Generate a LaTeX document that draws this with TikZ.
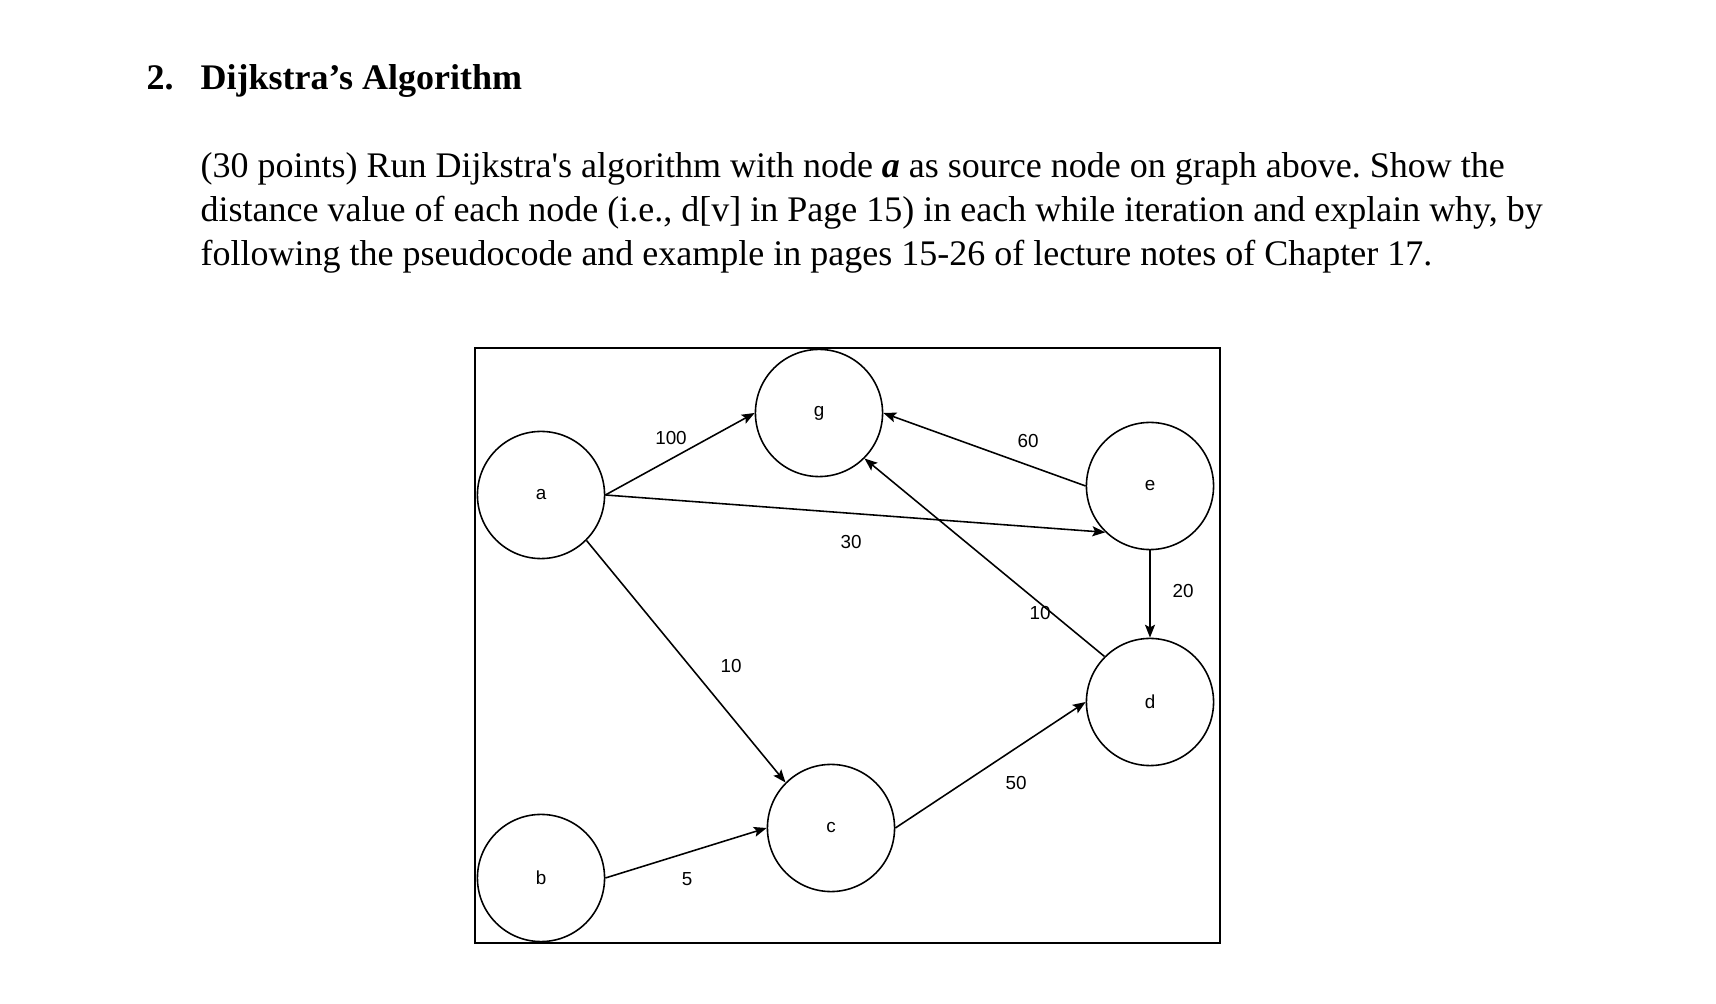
\documentclass[tikz,border=0pt]{standalone}
\usepackage{fontspec}
\setmainfont{Liberation Serif}
\newfontfamily\lblfont{Liberation Sans}
\usetikzlibrary{arrows.meta}
\frenchspacing

\begin{document}
\begin{tikzpicture}[x=0.35pt,y=-0.35pt,
  txt/.style={anchor=base west,inner sep=0pt,font=\fontsize{12.6}{15}\selectfont},
  vtx/.style={draw,circle,minimum size=44.5pt,inner sep=0pt,line width=0.55pt,font=\lblfont\fontsize{6.6}{8}\selectfont},
  wt/.style={inner sep=1pt,font=\lblfont\fontsize{6.6}{8}\selectfont},
  arc/.style={-{Stealth[length=4.5pt,width=3.5pt,inset=0.9pt]},line width=0.55pt}]
\useasboundingbox (0,0) rectangle (1716,1004);
\node[txt,font=\bfseries\fontsize{12.6}{15}\selectfont] (num) at (146,90) {2.};
\node[txt,font=\bfseries\fontsize{12.6}{15}\selectfont] (title) at (200,90) {Dijkstra’s Algorithm};
\node[txt] (line1) at (200,178) {(30 points) Run Dijkstra\textquotesingle s algorithm with node \textbf{\textit{a}} as source node on graph above. Show the};
\node[txt] (line2) at (200,222) {distance value of each node (i.e., d[v] in Page 15) in each while iteration and explain why, by};
\node[txt] (line3) at (200,266) {following the pseudocode and example in pages 15-26 of lecture notes of Chapter 17.};
\draw[line width=0.9pt] (475,348) rectangle (1220,943);
\node[vtx] (a) at (541,495) {a};
\node[vtx] (g) at (819,413) {g};
\node[vtx] (e) at (1150,486) {e};
\node[vtx] (d) at (1150,702) {d};
\node[vtx] (c) at (831,828) {c};
\node[vtx] (b) at (541,878) {b};
\draw[arc] (a.east) -- (g.west);
\draw[arc] (e.west) -- (g.east);
\draw[arc] (a.east) -- (e.226);
\draw[arc] (e.south) -- (d.north);
\draw[arc] (d.135) -- (g.-45);
\draw[arc] (a.-45) -- (c.135);
\draw[arc] (b.east) -- (c.west);
\draw[arc] (c.east) -- (d.west);
\node[wt] (w100) at (671,438) {100};
\node[wt] (w60) at (1028,441) {60};
\node[wt] (w30) at (851,542) {30};
\node[wt] (w20) at (1183,591) {20};
\node[wt] (w10dg) at (1040,613) {10};
\node[wt] (w10ac) at (731,666) {10};
\node[wt] (w50) at (1016,783) {50};
\node[wt] (w5) at (687,879) {5};
\end{tikzpicture}
\end{document}
